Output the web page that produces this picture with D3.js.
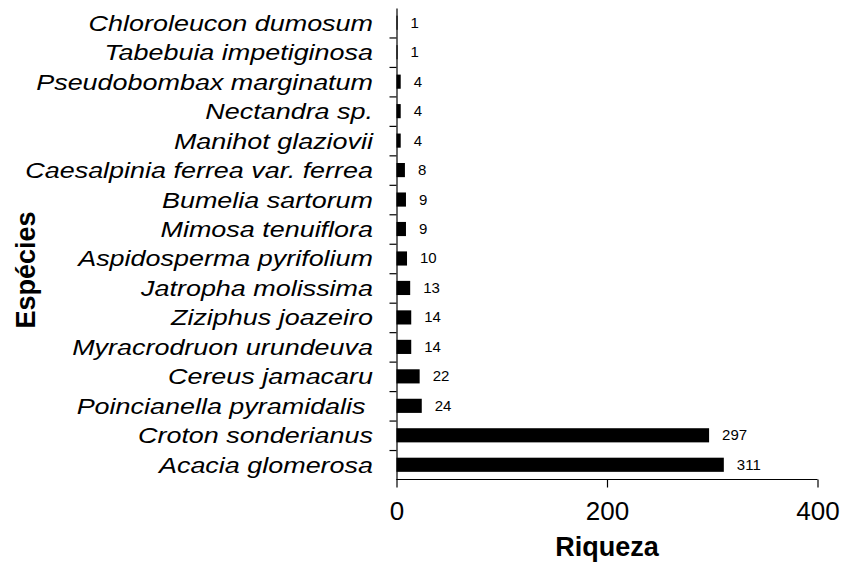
<!DOCTYPE html>
<html lang="pt">
<head>
<meta charset="utf-8">
<title>Riqueza por espécie</title>
<script src="https://cdn.jsdelivr.net/npm/d3@7"></script>
<style>
  body { margin: 0; background: #fff; }
  svg text { font-family: "Liberation Sans", Arial, sans-serif; fill: #000; }
  .species { font-style: italic; font-size: 22px; white-space: pre; }
  .val { font-size: 15px; }
  .tick text { font-size: 26px; }
  .title { font-weight: bold; font-size: 27px; }
</style>
</head>
<body>
<script>
// species, top to bottom as drawn
var species = ["Chloroleucon dumosum", "Tabebuia impetiginosa", "Pseudobombax marginatum",
  "Nectandra sp.", "Manihot glaziovii", "Caesalpinia ferrea var. ferrea", "Bumelia sartorum",
  "Mimosa tenuiflora", "Aspidosperma pyrifolium", "Jatropha molissima", "Ziziphus joazeiro",
  "Myracrodruon urundeuva", "Cereus jamacaru", "Poincianella pyramidalis ", "Croton sonderianus",
  "Acacia glomerosa"];
var riqueza = [1, 1, 4, 4, 4, 8, 9, 9, 10, 13, 14, 14, 22, 24, 297, 311];
var xTicks = [0, 200, 400];

var w = 843, h = 563;
var x0 = 396.5, x1 = 817.5, yTop = 8, yBot = 479.5;

var svg = d3.select("body").append("svg")
  .attr("width", w)
  .attr("height", h);

var x = d3.scaleLinear().domain([0, 400]).range([x0, x1]);
var y = d3.scaleBand().domain(species).range([yTop, yBot]).paddingInner(0.52).paddingOuter(0.26);
// boundary positions between categories
var yEdge = d3.scaleLinear().domain([0, species.length]).range([yTop, yBot]);

// bars
svg.selectAll("rect.bar")
  .data(species)
  .enter()
  .append("rect")
  .attr("class", "bar")
  .attr("x", x(0))
  .attr("y", function(d) { return y(d); })
  .attr("width", function(d, i) { return x(riqueza[i]) - x(0); })
  .attr("height", y.bandwidth())
  .attr("fill", "#000");

// value labels
svg.selectAll("text.val")
  .data(species)
  .enter()
  .append("text")
  .attr("class", "val")
  .attr("x", function(d, i) { return x(riqueza[i]) + 13; })
  .attr("y", function(d) { return y(d) + y.bandwidth() / 2 + 5; })
  .text(function(d, i) { return riqueza[i]; });

// y axis: line + outward ticks at category edges
var yAxis = svg.append("g")
  .attr("transform", "translate(" + x0 + ",0)")
  .call(d3.axisLeft(yEdge).tickValues(d3.range(1, species.length)).tickSize(7).tickSizeOuter(0).tickFormat(""));
yAxis.selectAll("path, line").attr("stroke", "#000").attr("stroke-width", 1.2);

// species labels (wide italic, like the source)
svg.selectAll("g.lab")
  .data(species)
  .enter()
  .append("g")
  .attr("class", "lab")
  .attr("transform", function(d) {
    return "translate(373," + (y(d) + y.bandwidth() / 2 + 8) + ") scale(1.225,1)";
  })
  .append("text")
  .attr("class", "species")
  .attr("text-anchor", "end")
  .text(function(d) { return d; });

// x axis
var xAxis = svg.append("g")
  .attr("transform", "translate(0," + yBot + ")")
  .call(d3.axisBottom(x).tickValues(xTicks).tickSize(8).tickSizeOuter(0).tickPadding(14));
xAxis.selectAll("path, line").attr("stroke", "#000").attr("stroke-width", 1.2);
xAxis.select(".domain").attr("d", "M" + x0 + ",0H" + x1);
xAxis.selectAll(".tick text").attr("fill", "#000").attr("font-family", null).attr("font-size", null);

// axis titles
svg.append("text")
  .attr("class", "title")
  .attr("text-anchor", "middle")
  .attr("x", (x0 + x1) / 2)
  .attr("y", 556)
  .text("Riqueza");

svg.append("text")
  .attr("class", "title")
  .attr("text-anchor", "middle")
  .attr("transform", "translate(35,270) rotate(-90)")
  .text("Espécies");
</script>
</body>
</html>
